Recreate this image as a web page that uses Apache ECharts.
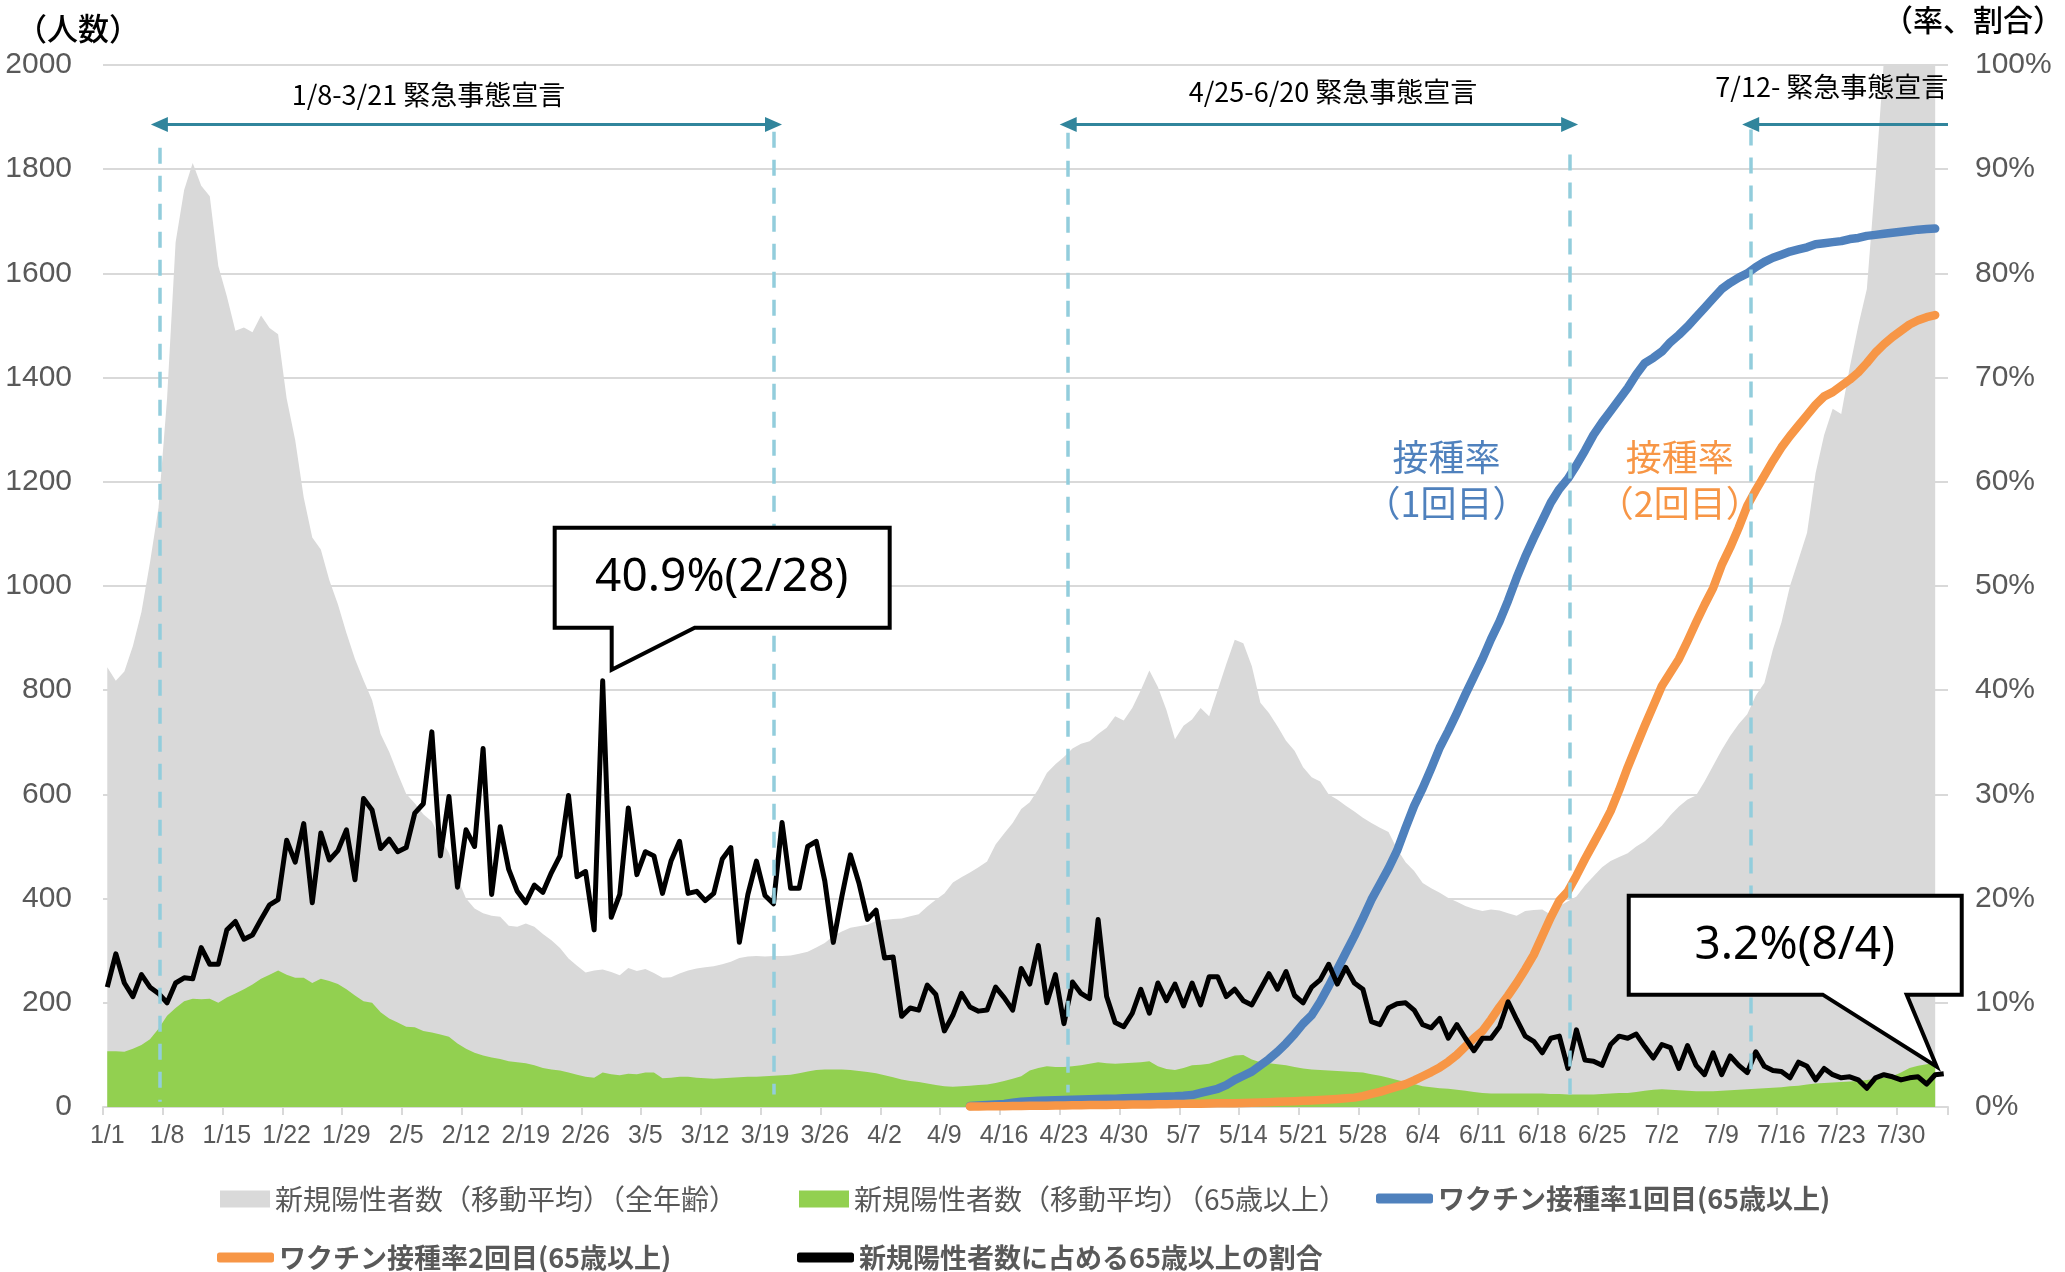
<!DOCTYPE html>
<html><head><meta charset="utf-8">
<script src="https://cdn.jsdelivr.net/npm/echarts@6/dist/echarts.min.js"></script>
<style>html,body{margin:0;padding:0;background:#fff}#c{width:2065px;height:1272px}</style>
</head><body><div id="c"></div>
<script>
// ---- categories: 1/1 .. 8/4 (2021) ----
const monthLengths = [31, 28, 31, 30, 31, 30, 31, 4];
const dates = [];
monthLengths.forEach((n, m) => { for (let d = 1; d <= n; d++) dates.push((m + 1) + '/' + d); });

// 新規陽性者数（移動平均）（全年齢） 1/1 .. 8/3
const allAges = [
  844, 818, 836, 885, 950, 1045, 1150, 1360, 1660, 1760,
  1812, 1768, 1748, 1614, 1556, 1490, 1496, 1487, 1519, 1495,
  1483, 1360, 1280, 1170, 1093, 1070, 1011, 965, 910, 860,
  819, 781, 716, 682, 640, 601, 583, 562, 548, 515,
  488, 440, 400, 381, 372, 367, 365, 348, 346, 352,
  346, 332, 320, 305, 285, 271, 258, 262, 264, 259,
  253, 267, 261, 265, 257, 248, 249, 256, 262, 266,
  268, 270, 274, 279, 286, 289, 290, 289, 290, 290,
  291, 294, 298, 306, 315, 328, 337, 344, 347, 350,
  357, 359, 361, 362, 366, 370, 385, 398, 410, 431,
  441, 450, 460, 471, 504, 525, 545, 572, 585, 610,
  641, 658, 672, 688, 697, 702, 716, 728, 750, 742,
  766, 800, 838, 806, 762, 706, 732, 744, 766, 750,
  800, 850, 897, 890, 846, 776, 756, 731, 703, 684,
  652, 633, 625, 600, 590, 578, 567, 555, 545, 536,
  528, 495, 470, 453, 430, 420, 411, 401, 394, 386,
  380, 376, 379, 377, 372, 367, 376, 378, 379, 369,
  386, 395, 404, 425, 443, 460, 472, 480, 487, 500,
  510, 525, 540, 560, 577, 590, 598, 625, 655, 685,
  712, 735, 754, 790, 814, 878, 930, 1000, 1051, 1102,
  1217, 1290, 1340, 1330, 1420, 1500, 1570, 1780, 2010, 2150,
  2300, 2420, 2550, 2650, 2780
];

// 新規陽性者数（移動平均）（65歳以上） 1/1 .. 8/3
const over65 = [
  107, 107, 106, 112, 119, 130, 150, 175, 190, 203,
  208, 207, 208, 200, 210, 218, 226, 235, 246, 254,
  262, 254, 248, 248, 238, 246, 242, 236, 226, 214,
  203, 200, 182, 170, 162, 154, 153, 146, 143, 139,
  135, 122, 112, 104, 99, 95, 92, 88, 86, 84,
  80, 75, 72, 70, 66, 62, 58, 56, 66, 63,
  61, 64, 63, 66, 66, 55, 56, 58, 58, 56,
  55, 54, 55, 56, 57, 58, 58, 59, 60, 61,
  62, 65, 68, 71, 72, 72, 72, 71, 69, 67,
  65, 61, 57, 53, 50, 48, 45, 42, 40, 39,
  40, 41, 42, 43, 46, 50, 54, 59, 70, 75,
  78, 77, 77, 78, 80, 83, 86, 84, 83, 84,
  85, 86, 88, 78, 73, 71, 75, 80, 81, 83,
  89, 94, 99, 100, 91, 86, 84, 82, 80, 77,
  74, 72, 71, 70, 69, 68, 67, 66, 63, 60,
  56, 52, 48, 44, 40, 38, 36, 35, 33, 31,
  29, 27, 26, 26, 26, 26, 26, 26, 26, 25,
  25, 24, 24, 24, 24, 25, 26, 27, 27, 29,
  31, 33, 34, 33, 32, 31, 30, 30, 30, 31,
  32, 33, 34, 35, 36, 37, 38, 40, 41, 43,
  45, 46, 47, 48, 49, 50, 52, 54, 56, 59,
  66, 75, 79, 82, 85
];

// 新規陽性者数に占める65歳以上の割合 (%) 1/1 .. 8/4
const ratio65 = [
  11.5, 14.7, 11.9, 10.6, 12.7, 11.5, 10.9, 10.0, 11.9, 12.4,
  12.3, 15.3, 13.7, 13.7, 17.0, 17.8, 16.1, 16.5, 18.0, 19.4,
  19.9, 25.6, 23.5, 27.2, 19.6, 26.3, 23.7, 24.6, 26.6, 21.8,
  29.6, 28.5, 24.8, 25.7, 24.5, 24.9, 28.2, 29.1, 36.0, 24.1,
  29.8, 21.1, 26.6, 25.0, 34.4, 20.4, 26.9, 22.8, 20.7, 19.6,
  21.3, 20.6, 22.5, 24.1, 29.9, 22.1, 22.6, 17.0, 40.9, 18.2,
  20.4, 28.7, 22.3, 24.5, 24.1, 20.5, 23.6, 25.5, 20.5, 20.7,
  19.8, 20.5, 23.8, 24.9, 15.8, 20.4, 23.6, 20.3, 19.5, 27.3,
  21.0, 21.0, 25.0, 25.5, 21.7, 15.8, 20.2, 24.2, 21.5, 18.0,
  18.9, 14.3, 14.4, 8.7, 9.5, 9.3, 11.7, 10.8, 7.3, 8.8,
  10.9, 9.6, 9.2, 9.3, 11.5, 10.5, 9.3, 13.3, 11.8, 15.5,
  10.0, 12.7, 8.0, 12.0, 10.9, 10.4, 18.0, 10.6, 8.1, 7.7,
  9.0, 11.3, 9.0, 11.9, 10.2, 11.8, 9.7, 11.9, 9.8, 12.5,
  12.5, 10.6, 11.3, 10.2, 9.8, 11.3, 12.8, 11.3, 13.0, 10.7,
  10.0, 11.5, 12.2, 13.7, 11.8, 13.4, 11.9, 11.3, 8.2, 7.9,
  9.5, 9.9, 10.0, 9.3, 7.9, 7.6, 8.5, 6.6, 7.9, 6.6,
  5.4, 6.6, 6.6, 7.7, 10.1, 8.4, 6.8, 6.3, 5.2, 6.6,
  6.8, 3.7, 7.4, 4.5, 4.4, 4.0, 6.0, 6.8, 6.6, 7.0,
  5.8, 4.7, 6.0, 5.7, 3.7, 5.9, 4.0, 3.1, 5.2, 3.1,
  4.9, 4.0, 3.3, 5.3, 3.9, 3.5, 3.4, 2.8, 4.3, 3.9,
  2.6, 3.7, 3.1, 2.8, 2.9, 2.6, 1.8, 2.8, 3.1, 2.9,
  2.6, 2.8, 2.9, 2.2, 3.1, 3.2
];

// ワクチン接種率 (65歳以上, %) from 4/12 .. 8/3
const vaccineStart = '4/12';
const dose1 = [
  0.1, 0.15, 0.2, 0.25, 0.3, 0.4, 0.5, 0.55, 0.6, 0.63,
  0.65, 0.68, 0.7, 0.72, 0.74, 0.76, 0.78, 0.8, 0.83, 0.86,
  0.9, 0.93, 0.96, 1.0, 1.03, 1.08, 1.15, 1.35, 1.55, 1.75,
  2.1, 2.6, 3.0, 3.4, 4.0, 4.6, 5.3, 6.1, 7.0, 8.0,
  8.8, 10.1, 11.6, 13.2, 14.8, 16.4, 18.1, 19.9, 21.4, 22.9,
  24.6, 26.8, 28.9, 30.6, 32.5, 34.5, 36.1, 37.8, 39.6, 41.3,
  43.0, 44.9, 46.6, 48.6, 50.8, 52.8, 54.6, 56.3, 58.0, 59.3,
  60.3, 61.6, 63.0, 64.5, 65.7, 66.8, 67.9, 69.0, 70.3, 71.4,
  71.9, 72.5, 73.4, 74.1, 74.9, 75.8, 76.7, 77.6, 78.5, 79.1,
  79.6, 80.0, 80.6, 81.1, 81.5, 81.8, 82.1, 82.3, 82.5, 82.8,
  82.9, 83.0, 83.1, 83.3, 83.4, 83.6, 83.7, 83.8, 83.9, 84.0,
  84.1, 84.2, 84.25, 84.3
];
const dose2 = [
  0.05, 0.05, 0.06, 0.07, 0.08, 0.09, 0.1, 0.11, 0.12, 0.13,
  0.14, 0.15, 0.16, 0.17, 0.18, 0.19, 0.2, 0.21, 0.22, 0.23,
  0.24, 0.25, 0.26, 0.27, 0.28, 0.3, 0.31, 0.32, 0.33, 0.35,
  0.36, 0.37, 0.38, 0.4, 0.43, 0.46, 0.5, 0.53, 0.56, 0.6,
  0.63, 0.67, 0.72, 0.77, 0.83, 0.9, 1.05, 1.25, 1.45, 1.7,
  1.95, 2.2, 2.55, 2.95, 3.35, 3.8, 4.35, 5.0, 5.8, 6.6,
  7.3, 8.4, 9.6, 10.7, 11.9, 13.2, 14.6, 16.4, 18.2, 19.8,
  20.7, 22.2, 23.8, 25.3, 26.8, 28.4, 30.4, 32.6, 34.6, 36.6,
  38.5, 40.4, 41.7, 43.0, 44.7, 46.5, 48.2, 49.8, 52.0, 53.7,
  55.6, 57.7, 59.2, 60.6, 62.0, 63.3, 64.4, 65.4, 66.4, 67.4,
  68.2, 68.6, 69.2, 69.8, 70.5, 71.4, 72.4, 73.2, 73.9, 74.5,
  75.1, 75.5, 75.8, 76.0
];

// emergency-declaration periods (day positions on a day-index scale)
const periodLabels = ['1/8-3/21 緊急事態宣言', '4/25-6/20 緊急事態宣言', '7/12- 緊急事態宣言'];
const periodStart = [6.6, 113.0, 192.9];
const periodEnd = [78.5, 171.7, 216];
const seriesNames = [
  '新規陽性者数（移動平均）（全年齢）',
  '新規陽性者数（移動平均）（65歳以上）',
  'ワクチン接種率1回目(65歳以上)',
  'ワクチン接種率2回目(65歳以上)',
  '新規陽性者数に占める65歳以上の割合'
];

const FONT_JP = '"Noto Sans CJK JP", "Noto Sans", sans-serif';
const FONT_NUM = '"Liberation Sans Narrow", "Liberation Sans", sans-serif';
const vStart = dates.indexOf(vaccineStart);

const chart = echarts.init(document.getElementById('c'), null, { renderer: 'canvas' });

const dashStyle = { color: '#92CDDC', width: 3.5, type: [16, 12] };
const arrowStyle = { color: '#31859C', width: 3, type: 'solid' };
const dashTops = [1841, 1872, 1870, 1828, 1876];
const dashBottoms = [10, 24, 28, 11, 56];
const eventPos = [periodStart[0], periodEnd[0], periodStart[1], periodEnd[1], periodStart[2]];
const arrowY = 1886;

const markLines = [];
eventPos.forEach((x, i) => {
  markLines.push([{ coord: [x, dashTops[i]], lineStyle: dashStyle }, { coord: [x, dashBottoms[i]], lineStyle: dashStyle }]);
});
for (let i = 0; i < 3; i++) {
  const endSym = i === 2 ? 'none' : 'triangle';
  markLines.push([
    { coord: [periodStart[i], arrowY], symbol: 'triangle', symbolSize: [15, 17], lineStyle: arrowStyle },
    { coord: [periodEnd[i], arrowY], symbol: endSym, symbolSize: [15, 17], lineStyle: arrowStyle }
  ]);
}

const textPoint = (x, y, text, color, size) => ({
  coord: [x, y], symbol: 'circle', symbolSize: 1, itemStyle: { color: 'rgba(0,0,0,0)' },
  label: { show: true, position: 'inside', formatter: text, color: color, fontSize: size, fontFamily: FONT_JP, lineHeight: size * 1.28, textBorderWidth: 0, align: 'center' }
});

const option = {
  animation: false,
  backgroundColor: '#ffffff',
  textStyle: { fontFamily: FONT_JP },
  grid: { left: 103, right: 117, top: 65, bottom: 165, containLabel: false, outerBoundsMode: 'none' },
  xAxis: [
    {
      type: 'category', data: dates, boundaryGap: true,
      axisLine: { show: true, lineStyle: { color: '#D9D9D9', width: 2 } },
      axisTick: { show: true, interval: 6, length: 8, lineStyle: { color: '#D9D9D9', width: 2 } },
      axisLabel: { interval: 6, color: '#595959', fontSize: 25, fontFamily: FONT_NUM, margin: 17 },
      splitLine: { show: false }
    },
    { type: 'value', min: 0, max: 216, show: false }
  ],
  yAxis: [
    {
      type: 'value', min: 0, max: 2000, interval: 200,
      axisLine: { show: false }, axisTick: { show: false },
      axisLabel: { color: '#595959', fontSize: 30, fontFamily: FONT_NUM, margin: 31, formatter: v => String(v) },
      splitLine: { show: true, lineStyle: { color: '#D9D9D9', width: 2 } }
    },
    {
      type: 'value', min: 0, max: 100, interval: 10, position: 'right',
      axisLine: { show: false }, axisTick: { show: false },
      axisLabel: { color: '#595959', fontSize: 30, fontFamily: FONT_NUM, margin: 27, formatter: v => v + '%' },
      splitLine: { show: false }
    }
  ],
  legend: [
    { left: 220, top: 1185, padding: 0, itemWidth: 50, itemHeight: 17, icon: 'rect', selectedMode: false, data: [seriesNames[0]], textStyle: { fontSize: 28, color: '#595959', fontFamily: FONT_JP } },
    { left: 799, top: 1185, padding: 0, itemWidth: 50, itemHeight: 17, icon: 'rect', selectedMode: false, data: [seriesNames[1]], textStyle: { fontSize: 28, color: '#595959', fontFamily: FONT_JP } },
    { left: 1376, top: 1185, padding: 0, itemWidth: 57, itemHeight: 10, icon: 'roundRect', selectedMode: false, data: [seriesNames[2]], textStyle: { fontSize: 27, color: '#595959', fontWeight: 'bold', fontFamily: FONT_JP } },
    { left: 217, top: 1244, padding: 0, itemWidth: 57, itemHeight: 10, icon: 'roundRect', selectedMode: false, data: [seriesNames[3]], textStyle: { fontSize: 27, color: '#595959', fontWeight: 'bold', fontFamily: FONT_JP } },
    { left: 797, top: 1244, padding: 0, itemWidth: 57, itemHeight: 10, icon: 'roundRect', selectedMode: false, data: [seriesNames[4]], textStyle: { fontSize: 27, color: '#595959', fontWeight: 'bold', fontFamily: FONT_JP } }
  ],
  series: [
    {
      name: seriesNames[0], type: 'line', data: allAges, symbol: 'none', color: '#D9D9D9',
      lineStyle: { width: 0, opacity: 0 }, areaStyle: { color: '#D9D9D9', opacity: 1 }, z: 1, silent: true
    },
    {
      name: seriesNames[1], type: 'line', data: over65, symbol: 'none', color: '#92D050',
      lineStyle: { width: 0, opacity: 0 }, areaStyle: { color: '#92D050', opacity: 1 }, z: 2, silent: true
    },
    {
      name: seriesNames[2], type: 'line', yAxisIndex: 1, data: dose1.map((v, i) => [vStart + i, v]),
      symbol: 'none', color: '#4F81BD', lineStyle: { width: 8.5, color: '#4F81BD', cap: 'round', join: 'round' }, z: 3, silent: true
    },
    {
      name: seriesNames[3], type: 'line', yAxisIndex: 1, data: dose2.map((v, i) => [vStart + i, v]),
      symbol: 'none', color: '#F79646', lineStyle: { width: 8.5, color: '#F79646', cap: 'round', join: 'round' }, z: 3, silent: true
    },
    {
      name: seriesNames[4], type: 'line', yAxisIndex: 1, data: ratio65,
      symbol: 'none', color: '#000000', lineStyle: { width: 5, color: '#000000', join: 'round' }, z: 4, silent: true
    },
    {
      type: 'line', xAxisIndex: 1, yAxisIndex: 0, data: [], z: 6, silent: true,
      markLine: { silent: true, animation: false, symbol: 'none', label: { show: false }, data: markLines },
      markPoint: {
        silent: true, animation: false,
        data: [
          textPoint(38.1, 1943, periodLabels[0], '#000', 27),
          textPoint(144.0, 1949, periodLabels[1], '#000', 27),
          textPoint(202.4, 1958, periodLabels[2], '#000', 27),
          textPoint(157.3, 1203, '接種率\n（1回目）', '#4F81BD', 36),
          textPoint(184.6, 1203, '接種率\n（2回目）', '#F79646', 36)
        ]
      }
    }
  ],
  graphic: [
    { type: 'text', x: 78, y: 28, z: 50, style: { text: '（人数）', fill: '#000', fontSize: 31, fontWeight: 500, fontFamily: FONT_JP, align: 'center', verticalAlign: 'middle' } },
    { type: 'text', x: 2063, y: 20, z: 50, style: { text: '（率、割合）', fill: '#000', fontSize: 30, fontWeight: 500, fontFamily: FONT_JP, align: 'right', verticalAlign: 'middle' } }
  ]
};
chart.setOption(option);

// callouts anchored to data points of the ratio series
function callout(idx, box, textOff) {
  const p = chart.convertToPixel({ seriesIndex: 4 }, [idx, ratio65[idx]]);
  const pts = box.map(o => [p[0] + o[0], p[1] + o[1]]);
  const label = ratio65[idx].toFixed(1) + '%(' + dates[idx] + ')';
  return [
    { type: 'polygon', z: 100, shape: { points: pts }, style: { fill: '#fff', stroke: '#000', lineWidth: 4, lineJoin: 'miter' } },
    { type: 'text', z: 101, x: p[0] + textOff[0], y: p[1] + textOff[1], style: { text: label, fill: '#000', fontSize: 46, fontFamily: '"Noto Sans", sans-serif', align: 'center', verticalAlign: 'middle' } }
  ];
}
const peakIdx = ratio65.indexOf(Math.max(...ratio65));
const lastIdx = ratio65.length - 1;
const g1 = callout(peakIdx,
  [[-48, -153], [287, -153], [287, -53], [92, -53], [9, -11], [9, -53], [-48, -53]],
  [119, -103]);
const g2 = callout(lastIdx,
  [[-315, -178], [18, -178], [18, -79], [-37, -79], [-7, -7], [-121, -79], [-315, -79]],
  [-149, -128]);
chart.setOption({ graphic: option.graphic.concat(g1, g2) });
</script>
</body></html>
